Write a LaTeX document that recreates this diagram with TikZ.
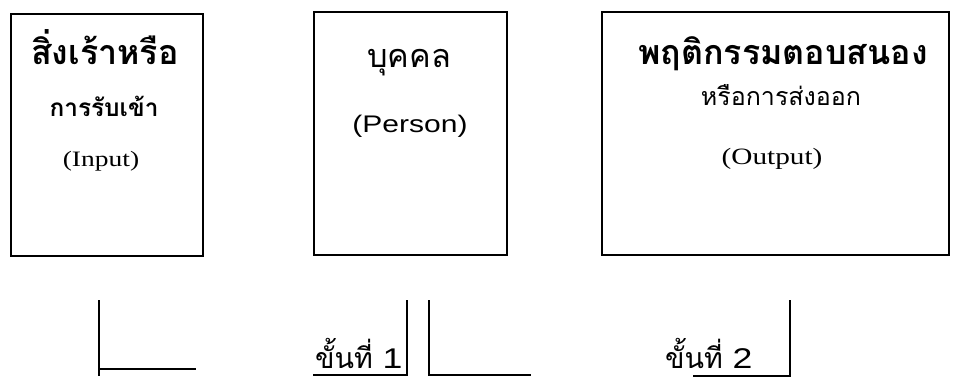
\documentclass[tikz,border=0pt]{standalone}
\usepackage{fontspec}
\newfontfamily\thai[Script=Thai]{Loma}
\newfontfamily\lserif[FakeStretch=1.25]{Liberation Serif}
\newfontfamily\lsans[FakeStretch=1.25]{Liberation Sans}
\begin{document}
\begin{tikzpicture}[x=1pt,y=-1pt,
  box/.style={draw=black,inner sep=0pt},
  txt/.style={inner sep=0pt,anchor=base},
  ln/.style={line width=1.2pt}]
\useasboundingbox (0,0) rectangle (960,376);
\node[box,line width=1.6pt,minimum width=192,minimum height=242] (b1) at (107,135) {};
\node[box,line width=1.1pt,minimum width=193,minimum height=243] (b2) at (410.5,133.5) {};
\node[box,line width=1.4pt,minimum width=347,minimum height=243] (b3) at (775.5,133.5) {};
% box 1
\node[txt] (t11) at (105,64) {\thai\bfseries\fontsize{34}{36}\selectfont สิ่งเร้าหรือ};
\node[txt] (t12) at (104,116) {\thai\bfseries\fontsize{24.4}{26}\selectfont การรับเข้า};
\node[txt] (t13) at (101,166) {\lserif\fontsize{22}{24}\selectfont (Input)};
% box 2
\node[txt] (t21) at (409,67) {\thai\fontsize{32.4}{34}\selectfont บุคคล};
\node[txt] (t22) at (410,132) {\lsans\fontsize{24}{26}\selectfont (Person)};
% box 3
\node[txt] (t31) at (783,64) {\thai\bfseries\fontsize{34}{36}\selectfont พฤติกรรมตอบสนอง};
\node[txt] (t32) at (781,105) {\thai\fontsize{25}{27}\selectfont หรือการส่งออก};
\node[txt] (t33) at (772,164) {\lserif\fontsize{23.4}{25}\selectfont (Output)};
% bottom labels
\node[txt,anchor=base west] (s1) at (315,368) {\thai\fontsize{28.5}{30}\selectfont ขั้นที่ \lsans 1};
\node[txt,anchor=base west] (s2) at (665,368) {\thai\fontsize{28.5}{30}\selectfont ขั้นที่ \lsans 2};
% bottom lines
\coordinate (a1) at (99,300); \coordinate (a2) at (99,376); \coordinate (a3) at (99,369); \coordinate (a4) at (196,369);
\draw[ln] (a1) -- (a2); \draw[ln] (a3) -- (a4);
\coordinate (c1) at (313,375); \coordinate (c2) at (407,375); \coordinate (c3) at (407,300);
\draw[ln] (c1) -- (c2) -- (c3);
\coordinate (d1) at (429,300); \coordinate (d2) at (429,375); \coordinate (d3) at (531,375);
\draw[ln] (d1) -- (d2) -- (d3);
\coordinate (e1) at (693,376); \coordinate (e2) at (790,376); \coordinate (e3) at (790,300);
\draw[ln] (e1) -- (e2) -- (e3);
\end{tikzpicture}
\end{document}
